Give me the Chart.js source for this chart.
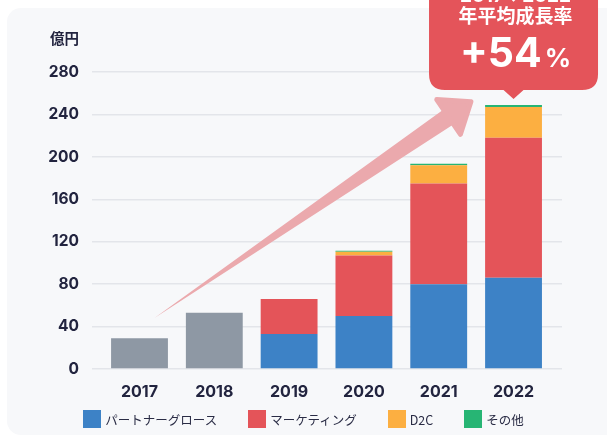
<!DOCTYPE html>
<html>
<head>
<meta charset="utf-8">
<script src="https://cdn.jsdelivr.net/npm/chart.js@4.4.1/dist/chart.umd.min.js"></script>
<style>
body{margin:0;background:#fff;width:607px;height:445px;overflow:hidden;position:relative;font-family:Inter,"Noto Sans CJK JP",sans-serif;}
#panel{position:absolute;left:7px;top:8px;width:640px;height:427px;background:#f7f8fa;border-radius:14px;}
#wrap{position:absolute;left:0;top:0;width:607px;height:445px;}
#legend{position:absolute;left:0;top:410px;width:607px;display:flex;justify-content:center;gap:31px;font-family:"Noto Sans CJK JP",sans-serif;font-size:12.5px;color:#2a2c45;}
#legend div{display:flex;align-items:center;height:18px;}
#legend span{display:inline-block;width:18px;height:18px;margin-right:4px;}
</style>
</head>
<body>
<div id="panel"></div>
<div id="wrap"><canvas id="graph" width="607" height="445"></canvas></div>
<div id="legend"></div>
<script>

// data (億円)
const years=["2017","2018","2019","2020","2021","2022"];
const totalOld=[29,53,null,null,null,null];
const partner=[null,null,33,50,80,86];
const marketing=[null,null,33,57,95,132];
const d2c=[null,null,0,3.5,17,29];
const other=[null,null,0,1,1.5,2];
const yTicks=[0,40,80,120,160,200,240,280];

const seriesNames=["パートナーグロース","マーケティング","D2C","その他"];
const seriesColors=["#3d82c6","#e45459","#fcaf41","#27b574"];
const grayColor="#8e98a4";
const growthText="+54";

function toPoints(arr){
let out=[];
arr.forEach((v,i)=>{ if(v!==null) out.push({x:i,y:v}); });
return out;
}

const dark="#22243f";
const font='Inter,"Noto Sans CJK JP",sans-serif';

const extras={
id:"extras",
beforeDatasetsDraw(c){
// growth arrow
const xs=c.scales.x, ys=c.scales.y, ctx=c.ctx;
const x0=xs.getPixelForValue(0.2), y0=ys.getPixelForValue(48);
const x1=xs.getPixelForValue(4.43), y1=ys.getPixelForValue(252);
const dx=x1-x0, dy=y1-y0, len=Math.hypot(dx,dy);
const ux=dx/len, uy=dy/len, nx=-uy, ny=ux;
const headLen=27, headW=21, shaftW=9;
const bx=x1-ux*headLen, by=y1-uy*headLen;
ctx.save();
ctx.fillStyle="#eba9ad";
ctx.strokeStyle="#eba9ad";
ctx.lineJoin="round";
ctx.lineWidth=5;
ctx.beginPath();
ctx.moveTo(x0,y0);
ctx.lineTo(bx+nx*shaftW,by+ny*shaftW);
ctx.lineTo(bx+nx*headW,by+ny*headW);
ctx.lineTo(x1,y1);
ctx.lineTo(bx-nx*headW,by-ny*headW);
ctx.lineTo(bx-nx*shaftW,by-ny*shaftW);
ctx.closePath();
ctx.fill();
ctx.beginPath();
ctx.moveTo(bx+nx*headW,by+ny*headW);
ctx.lineTo(x1,y1);
ctx.lineTo(bx-nx*headW,by-ny*headW);
ctx.closePath();
ctx.fill();
ctx.stroke();
ctx.restore();
},
afterDraw(c){
const xs=c.scales.x, ys=c.scales.y, ctx=c.ctx;
ctx.save();
// unit label
ctx.fillStyle=dark;
ctx.font="bold 14.5px "+font;
ctx.textAlign="right";
ctx.textBaseline="middle";
ctx.fillText("億円",ys.right-13,40);

// callout above 2022
const last=years.length-1;
const top2022=partner[last]+marketing[last]+d2c[last]+other[last];
const cx=xs.getPixelForValue(last);
const tipY=ys.getPixelForValue(top2022)-6;
const bottom=tipY-9, w=169, r=16, left=cx-w/2, right=cx+w/2, topY=-40;
ctx.fillStyle="#e4545a";
ctx.beginPath();
ctx.moveTo(left,topY);
ctx.lineTo(right,topY);
ctx.lineTo(right,bottom-r);
ctx.quadraticCurveTo(right,bottom,right-r,bottom);
ctx.lineTo(cx+10,bottom);
ctx.lineTo(cx,tipY);
ctx.lineTo(cx-10,bottom);
ctx.lineTo(left+r,bottom);
ctx.quadraticCurveTo(left,bottom,left,bottom-r);
ctx.closePath();
ctx.fill();

ctx.fillStyle="#fff";
ctx.textAlign="center";
ctx.textBaseline="alphabetic";
ctx.font="bold 19px "+font;
ctx.fillText(years[0]+"→"+years[last],cx+2,2);
ctx.fillText("年平均成長率",cx+2,23);
ctx.font="bold 41px "+font;
const w1=ctx.measureText(growthText).width;
ctx.font="bold 26px "+font;
const w2=ctx.measureText("%").width;
const sx=cx+2-(w1+w2+3)/2;
ctx.textAlign="left";
ctx.font="bold 41px "+font;
ctx.fillText(growthText,sx,67);
ctx.font="bold 26px "+font;
ctx.fillText("%",sx+w1+3,67);
ctx.restore();
}
};

const barOpts={barPercentage:0.76,categoryPercentage:1,borderWidth:0,stack:"s"};

const chart=new Chart(document.getElementById("graph"),{
type:"bar",
data:{
datasets:[
Object.assign({label:"実績",data:toPoints(totalOld),backgroundColor:grayColor},barOpts),
Object.assign({label:seriesNames[0],data:toPoints(partner),backgroundColor:seriesColors[0]},barOpts),
Object.assign({label:seriesNames[1],data:toPoints(marketing),backgroundColor:seriesColors[1]},barOpts),
Object.assign({label:seriesNames[2],data:toPoints(d2c),backgroundColor:seriesColors[2]},barOpts),
Object.assign({label:seriesNames[3],data:toPoints(other),backgroundColor:seriesColors[3]},barOpts)
]
},
options:{
responsive:false,
animation:false,
layout:{padding:{top:72,right:45,left:0,bottom:0}},
plugins:{legend:{display:false},tooltip:{enabled:false}},
scales:{
x:{
type:"linear",
stacked:true,
offset:false,
min:-0.635,
max:5.648,
grid:{display:false},
border:{display:false},
afterBuildTicks(axis){ axis.ticks=years.map((y,i)=>({value:i})); },
afterFit(axis){ axis.height=76; },
ticks:{
autoSkip:false,
maxRotation:0,
padding:6,
color:dark,
font:{family:font,size:16,weight:"bold"},
callback:(v)=>years[v]
}
},
y:{
stacked:true,
min:0,
max:280,
afterBuildTicks(axis){ axis.ticks=yTicks.map(v=>({value:v})); },
afterFit(axis){ axis.width=92; },
grid:{color:"#e3e5ea",lineWidth:1.5,drawTicks:false},
border:{display:false},
ticks:{
padding:13,
color:dark,
font:{family:font,size:15.5,weight:"bold"}
}
}
}
},
plugins:[extras]
});

// legend
const lg=document.getElementById("legend");
seriesNames.forEach((n,i)=>{
const d=document.createElement("div");
d.innerHTML='<span style="background:'+seriesColors[i]+'"></span>'+n;
lg.appendChild(d);
});

</script>
</body>
</html>
